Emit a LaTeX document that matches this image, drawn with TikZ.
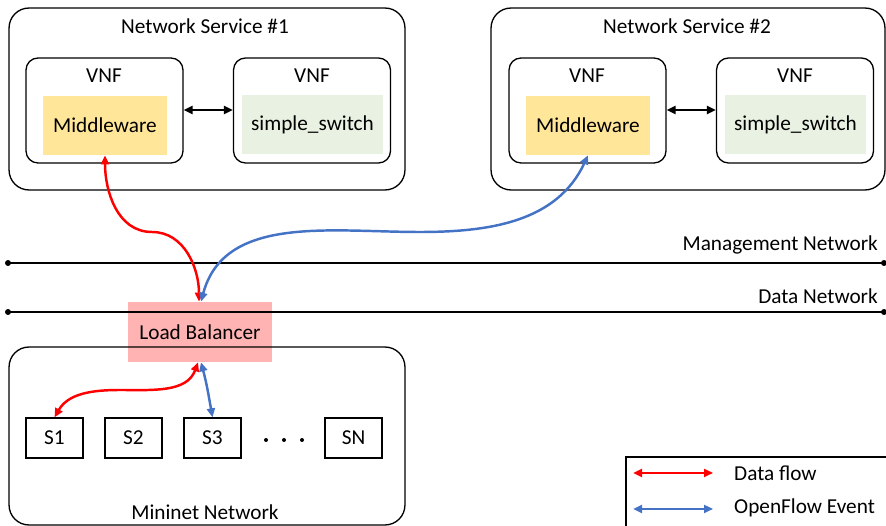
\documentclass[tikz,border=0pt]{standalone}
\usepackage{fontspec}
\setmainfont{Carlito}
\usepackage{tikz}
\usetikzlibrary{arrows.meta,positioning}
\definecolor{mwfill}{HTML}{FFE699}
\definecolor{ssfill}{HTML}{E9F2E2}
\definecolor{ofblue}{HTML}{4472C4}
\definecolor{dfred}{HTML}{FF0000}
\definecolor{lbfill}{HTML}{FFB3B3}

\begin{document}
\begin{tikzpicture}[x=0.02cm,y=-0.02cm,font=\fontsize{12.1}{14}\selectfont,
  ns/.style={draw,line width=0.75pt,rounded corners=0.4cm,minimum width=7.92cm,minimum height=3.64cm},
  vnf/.style={draw,line width=0.75pt,rounded corners=0.24cm,minimum width=3.14cm,minimum height=2.1cm},
  mw/.style={fill=mwfill,minimum width=2.48cm,minimum height=1.18cm},
  ss/.style={fill=ssfill,minimum width=2.82cm,minimum height=1.18cm},
  sw/.style={draw,line width=0.75pt,minimum width=1.14cm,minimum height=0.8cm},
  net/.style={line width=1pt},
  lb/.style={fill=lbfill,minimum width=2.88cm,minimum height=1.2cm},
  arr/.style={{Triangle[length=1.8mm,width=1.6mm]}-{Triangle[length=1.8mm,width=1.6mm]},line width=1.2pt},
  df/.style={arr,line width=1.4pt,color=dfred},
  of/.style={arr,line width=1.4pt,color=ofblue}]
  \useasboundingbox (0,0) rectangle (886,526);
  \clip (0,0) rectangle (886,526);
  % network service 1
  \node[ns] (ns1) at (207,99) {};
  \node (ns1t) at (205,26) {Network Service \#1};
  \node[vnf] (v11) at (104.5,110.5) {};
  \node (v11t) at (104,76) {VNF};
  \node[mw] (mw1) at (105,125.5) {Middleware};
  \node[vnf] (v12) at (312,110.5) {};
  \node (v12t) at (312,76) {VNF};
  \node[ss] (ss1) at (312.5,124.5) {simple\_switch};
  \draw[arr] (v11.east |- 0,110) -- (v12.west |- 0,110);
  % network service 2
  \node[ns,minimum width=7.88cm] (ns2) at (688,99) {};
  \node (ns2t) at (687,26) {Network Service \#2};
  \node[vnf] (v21) at (587.5,110.5) {};
  \node (v21t) at (587,76) {VNF};
  \node[mw] (mw2) at (588,125.5) {Middleware};
  \node[vnf] (v22) at (795,110.5) {};
  \node (v22t) at (795,76) {VNF};
  \node[ss] (ss2) at (795.5,124.5) {simple\_switch};
  \draw[arr] (v21.east |- 0,110) -- (v22.west |- 0,110);
  % load balancer sits under the lines
  \node[lb] (lb) at (200,332) {};
  % networks
  \coordinate (m0) at (8,263); \coordinate (m1) at (884,263);
  \coordinate (d0) at (8,312); \coordinate (d1) at (884,312);
  \draw[net] (m0) -- (m1); \draw[net] (d0) -- (d1);
  \fill (m0) circle (0.06cm); \fill (m1) circle (0.06cm);
  \fill (d0) circle (0.06cm); \fill (d1) circle (0.06cm);
  \node[anchor=east] (mgt) at (884,245) {Management Network};
  \node[anchor=east] (dnt) at (884,296) {Data Network};
  % mininet
  \node[ns,minimum height=3.56cm] (mn) at (207,436) {};
  \node (mnt) at (205,512) {Mininet Network};
  \node (lbt) at (lb) {Load Balancer};
  \node[sw] (s1) at (54.5,438) {S1};
  \node[sw] (s2) at (133.5,438) {S2};
  \node[sw] (s3) at (212.5,438) {S3};
  \node[sw] (sn) at (353.5,438) {SN};
  \foreach \x in {266,284,302} \fill (\x,440) circle (0.04cm);
  % flows
  \draw[df] (mw1.south) to[out=-90,in=180] (152,232) to[out=0,in=90] ([xshift=-0.02cm]lb.north);
  \draw[of] ([xshift=0.02cm]lb.north) to[out=75,in=180] (420,232) to[out=0,in=-115] (mw2.south);
  \draw[df] ([xshift=-0.04cm]lb.south) to[out=-110,in=0] (120,390) to[out=180,in=60] (s1.north);
  \draw[of] ([xshift=0.02cm]lb.south) to[out=-75,in=100] (s3.north);
  % legend
  \draw[line width=0.75pt] (626,540) -- (626,457) -- (900,457);
  \coordinate (lr0) at (633,473); \coordinate (lr1) at (713,473);
  \coordinate (lb0) at (633,509); \coordinate (lb1) at (713,509);
  \draw[df] (lr0) -- (lr1);
  \draw[of] (lb0) -- (lb1);
  \node[anchor=west] (dft) at (728,473) {Data flow};
  \node[anchor=west] (oft) at (728,508) {OpenFlow Event};
\end{tikzpicture}
\end{document}
